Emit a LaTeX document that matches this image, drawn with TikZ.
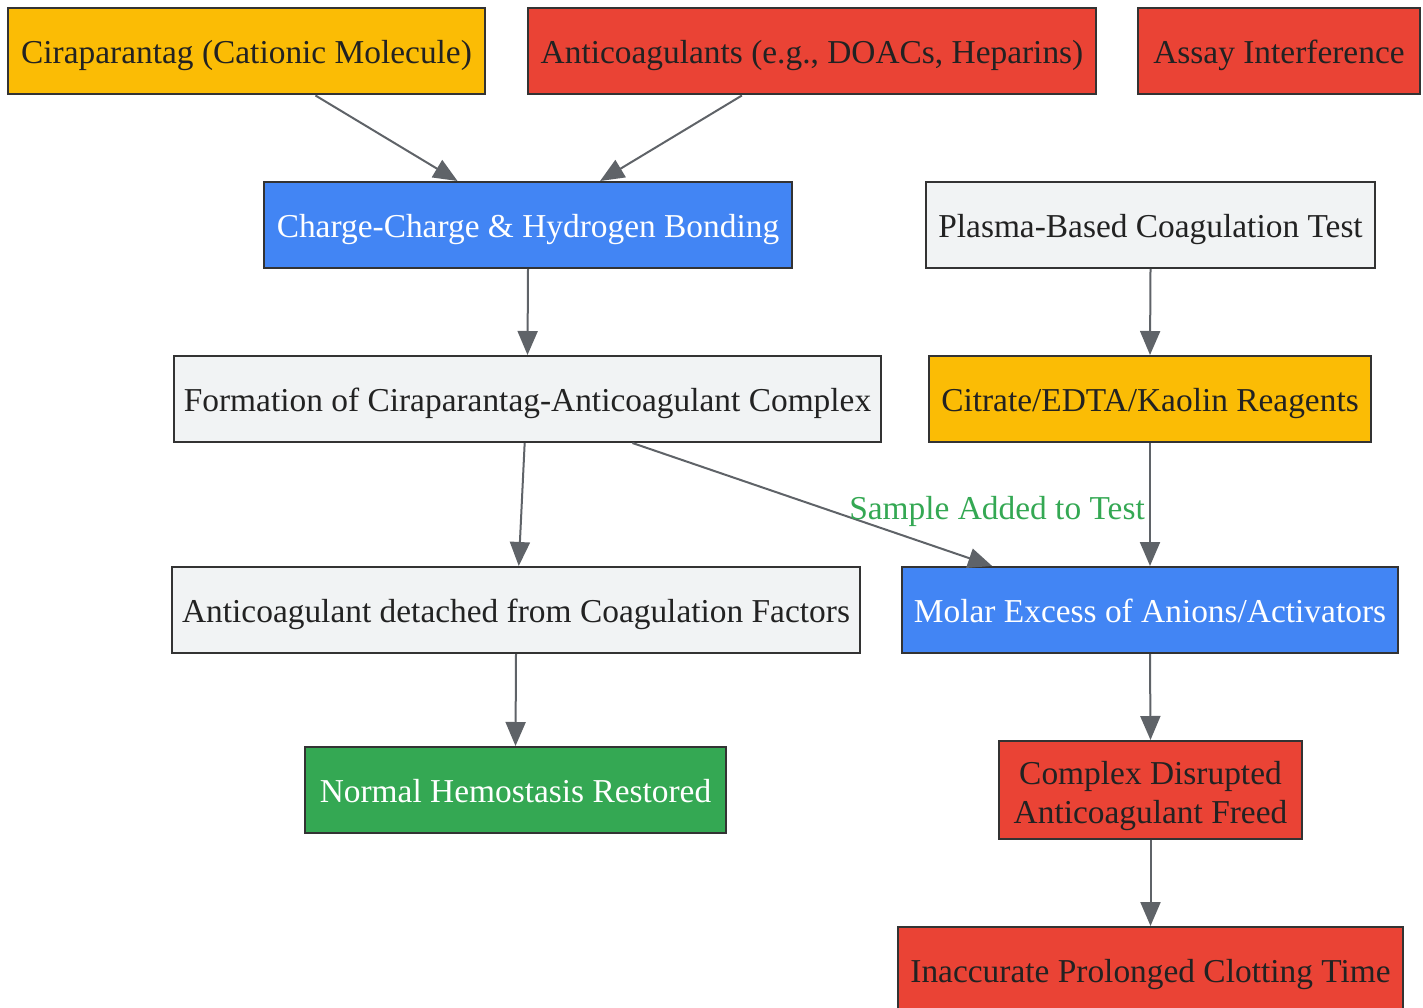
\documentclass[tikz,border=0pt]{standalone}
\usepackage{fontspec}
\setmainfont{Liberation Serif}
\usetikzlibrary{arrows.meta,calc}
\definecolor{cyellow}{HTML}{FBBC05}
\definecolor{cred}{HTML}{EA4335}
\definecolor{cblue}{HTML}{4285F4}
\definecolor{cgray}{HTML}{F1F3F4}
\definecolor{cgreen}{HTML}{34A853}
\definecolor{cstroke}{HTML}{333333}
\definecolor{cedge}{HTML}{5F6368}
\definecolor{ctext}{HTML}{222222}
\tikzset{
  box/.style={draw=cstroke, line width=2pt, inner sep=0pt, minimum height=86pt, align=center,
    font=\fontsize{33.4}{39}\selectfont, text=ctext, text height=32pt, text depth=7pt},
  ybox/.style={box, fill=cyellow},
  rbox/.style={box, fill=cred},
  bbox/.style={box, fill=cblue, text=white},
  gbox/.style={box, fill=cgray},
  grbox/.style={box, fill=cgreen, text=white},
  edge/.style={draw=cedge, line width=2pt, -{Triangle[length=24pt,width=20pt]}},
  elabel/.style={text=cgreen, font=\fontsize{33.4}{39}\selectfont, inner sep=0pt, text height=32pt, text depth=7pt}
}
\begin{document}
\begin{tikzpicture}[x=1pt,y=-1pt]
\useasboundingbox (0,0) rectangle (1423,1008);
\node[ybox, minimum width=477pt] (A) at (246.5,51.5) {Ciraparantag (Cationic Molecule)};
\node[rbox, minimum width=568pt] (B) at (812,51.5) {Anticoagulants (e.g., DOACs, Heparins)};
\node[rbox, minimum width=282pt] (C) at (1279,51.5) {Assay Interference};
\node[bbox, minimum width=528pt] (D) at (528,225) {Charge-Charge \& Hydrogen Bonding};
\node[gbox, minimum width=449pt] (E) at (1150.5,225) {Plasma-Based Coagulation Test};
\node[gbox, minimum width=707pt] (F) at (527.5,399) {Formation of Ciraparantag-Anticoagulant Complex};
\node[ybox, minimum width=442pt] (G) at (1150,399) {Citrate/EDTA/Kaolin Reagents};
\node[gbox, minimum width=688pt] (H) at (516,610) {Anticoagulant detached from Coagulation Factors};
\node[bbox, minimum width=496pt] (I) at (1150,610) {Molar Excess of Anions/Activators};
\node[grbox, minimum width=421pt] (J) at (515.5,790) {Normal Hemostasis Restored};
\node[rbox, minimum width=303pt, minimum height=98pt, text height=73pt, text depth=7pt] (K) at (1150.5,790) {Complex Disrupted\\Anticoagulant Freed};
\node[rbox, minimum width=505pt] (L) at (1150.5,970) {Inaccurate Prolonged Clotting Time};

\draw[edge] ($(A.south west)!0.644!(A.south east)$) -- ($(D.north west)!0.367!(D.north east)$);
\draw[edge] ($(B.south west)!0.377!(B.south east)$) -- ($(D.north west)!0.636!(D.north east)$);
\draw[edge] (D.south) -- (F.north);
\draw[edge] ($(F.south west)!0.496!(F.south east)$) -- ($(H.north west)!0.504!(H.north east)$);
\draw[edge] ($(F.south west)!0.648!(F.south east)$) -- ($(I.north west)!0.183!(I.north east)$);
\node[elabel] (lab) at (997,507) {Sample Added to Test};
\draw[edge] (E.south) -- (G.south |- G.north);
\draw[edge] (G.south) -- (I.north);
\draw[edge] (H.south) -- (J.north);
\draw[edge] (I.south) -- (K.north);
\draw[edge] (K.south) -- (L.north);
\end{tikzpicture}
\end{document}
